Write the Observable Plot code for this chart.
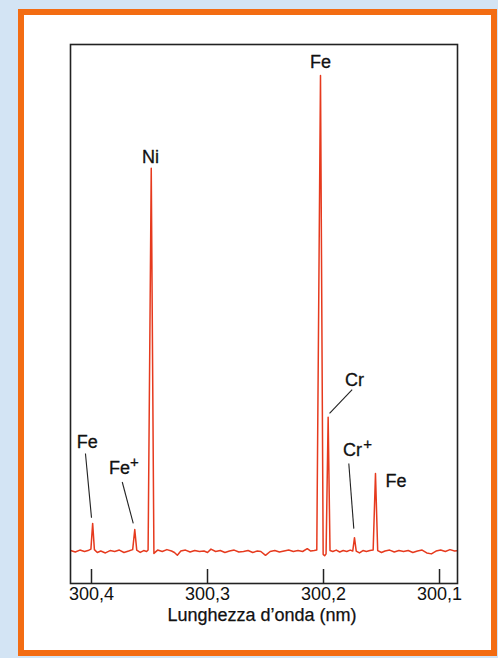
<!DOCTYPE html>
<html>
<head>
<meta charset="utf-8">
<script src="https://cdn.jsdelivr.net/npm/d3@7"></script>
<script src="https://cdn.jsdelivr.net/npm/@observablehq/plot@0.6"></script>
<style>
  html, body { margin: 0; padding: 0; width: 498px; height: 658px; overflow: hidden; background: #d3e4f4; }
  #paper { position: absolute; left: 18px; top: 9px; width: 467px; height: 635px; background: #fff; border: 6px solid #f36c12; }
  #chart { position: absolute; left: 0; top: 0; }
</style>
</head>
<body>
<div id="paper"></div>
<div id="chart"></div>
<script>
// Spectrum trace: [wavelength (nm), relative intensity]
const spectrum = [
  [300.418, 0.2], [300.414, -0.1], [300.410, 0.3], [300.406, 0.0], [300.403, 0.2],
  [300.4005, 0.5], [300.399, 5.9], [300.3975, 0.4], [300.395, -0.2], [300.392, 0.1],
  [300.388, -0.3], [300.384, 0.2], [300.380, 0.0], [300.376, 0.3], [300.372, -0.2],
  [300.368, 0.1], [300.3645, 0.4], [300.3627, 4.6], [300.3610, 0.3], [300.358, -0.2],
  [300.355, 0.2], [300.3525, 0.0], [300.3512, 0.3], [300.3485, 80.5], [300.3462, -0.4],
  [300.343, 0.3], [300.339, 0.0], [300.335, 0.4], [300.331, 0.1], [300.3285, -0.2],
  [300.326, -0.8], [300.323, 0.1], [300.319, 0.3], [300.315, -0.1], [300.311, 0.2],
  [300.307, 0.0], [300.303, 0.1], [300.300, -0.2], [300.297, 0.5], [300.293, 0.0],
  [300.289, 0.2], [300.285, -0.2], [300.281, 0.1], [300.277, 0.3], [300.273, -0.1],
  [300.269, 0.0], [300.265, 0.2], [300.261, -0.2], [300.257, 0.1], [300.254, 0.0],
  [300.250, -0.8], [300.246, 0.0], [300.242, 0.2], [300.238, -0.1], [300.234, 0.1],
  [300.230, 0.3], [300.226, 0.0], [300.222, 0.2], [300.218, 0.0], [300.214, 0.6],
  [300.211, 0.1], [300.208, 0.2], [300.2058, 0.3], [300.2026, 100], [300.2003, -0.6],
  [300.1990, -0.9], [300.1978, -0.5], [300.1960, 28.2], [300.1944, 0.2], [300.192, 0.0],
  [300.189, 0.3], [300.186, -0.1], [300.183, 0.2], [300.180, 0.0], [300.177, 0.3],
  [300.1748, 0.1], [300.1733, 2.9], [300.1718, 0.1], [300.169, -0.3], [300.166, 0.2],
  [300.163, 0.0], [300.160, 0.2], [300.1572, 0.3], [300.1552, 16.4], [300.1533, 0.2],
  [300.150, -0.2], [300.147, 0.1], [300.143, 0.3], [300.139, -0.1], [300.135, 0.2],
  [300.131, 0.0], [300.127, 0.2], [300.123, -0.2], [300.119, 0.1], [300.115, 0.3],
  [300.111, -0.3], [300.107, -0.5], [300.103, 0.1], [300.099, 0.3], [300.095, 0.0],
  [300.091, 0.4], [300.087, 0.1], [300.0845, 0.2]
];

const xTicks = [300.4, 300.3, 300.2, 300.1];
const xLabel = "Lunghezza d\u2019onda (nm)";

// Peak labels (element symbol, position, and whether it is an ion "+")
const peakNames = ["Fe", "Ni", "Fe", "Fe", "Cr", "Cr", "Fe"];
const peakIon   = [false, false, false, true, false, true, false];
const peakLabelNm = [300.2026, 300.3491, 300.4037, 300.3759, 300.1733, 300.1750, 300.1375];
const peakLabelI  = [102.8, 82.9, 23.0, 17.4, 35.9, 21.2, 14.8];

// Leader lines from label to peak
const leaderNm1 = [300.4052, 300.3735, 300.1753, 300.1782];
const leaderI1  = [20.6, 14.6, 34.0, 18.5];
const leaderNm2 = [300.4000, 300.3640, 300.1948, 300.1739];
const leaderI2  = [7.1, 5.9, 29.0, 4.8];

const xDomain = [300.4181, 300.0845];
const yDomain = [-6.72, 106.5];

const font = "'Liberation Sans', Arial, Helvetica, sans-serif";
const red = "#e63a1e";
const ink = "#111";

const points = spectrum.map(([nm, v]) => ({nm, v}));
const labels = peakNames.map((name, i) => ({name, ion: peakIon[i], nm: peakLabelNm[i], v: peakLabelI[i]}));
const ions = labels.filter(d => d.ion);
const leaders = leaderNm1.map((_, i) => ({x1: leaderNm1[i], y1: leaderI1[i], x2: leaderNm2[i], y2: leaderI2[i]}));

const chart = Plot.plot({
  width: 498,
  height: 658,
  marginLeft: 70,
  marginRight: 41,
  marginTop: 44,
  marginBottom: 75,
  style: {background: "transparent", fontFamily: font, color: ink},
  x: {domain: xDomain},
  y: {domain: yDomain, axis: null},
  marks: [
    Plot.line(points, {x: "nm", y: "v", stroke: red, strokeWidth: 1.5, clip: true}),
    Plot.link(leaders, {x1: "x1", y1: "y1", x2: "x2", y2: "y2", stroke: "#222", strokeWidth: 1.1}),
    Plot.text(labels, {x: "nm", y: "v", text: "name", fontSize: 18, fill: ink, stroke: ink, strokeWidth: 0.3}),
    Plot.text(ions, {x: "nm", y: "v", text: () => "+", dx: 15, dy: -6, fontSize: 15, fill: ink, stroke: ink, strokeWidth: 0.3}),
    Plot.ruleX(xTicks, {x: d => d, y1: yDomain[0], y2: yDomain[0] + 2.94, stroke: "#222", strokeWidth: 1.5}),
    Plot.frame({stroke: "#222", strokeWidth: 1.6}),
    Plot.axisX({ticks: xTicks, tickSize: 0, tickPadding: 4, fontSize: 18, label: null,
      fill: ink, stroke: ink, strokeWidth: 0.25,
      tickFormat: d => d.toFixed(1).replace(".", ",")}),
    Plot.text([xLabel], {frameAnchor: "bottom", dy: 37, dx: -2, text: d => d, fontSize: 18, fill: ink, stroke: ink, strokeWidth: 0.25})
  ]
});
document.getElementById("chart").appendChild(chart);
</script>
</body>
</html>
